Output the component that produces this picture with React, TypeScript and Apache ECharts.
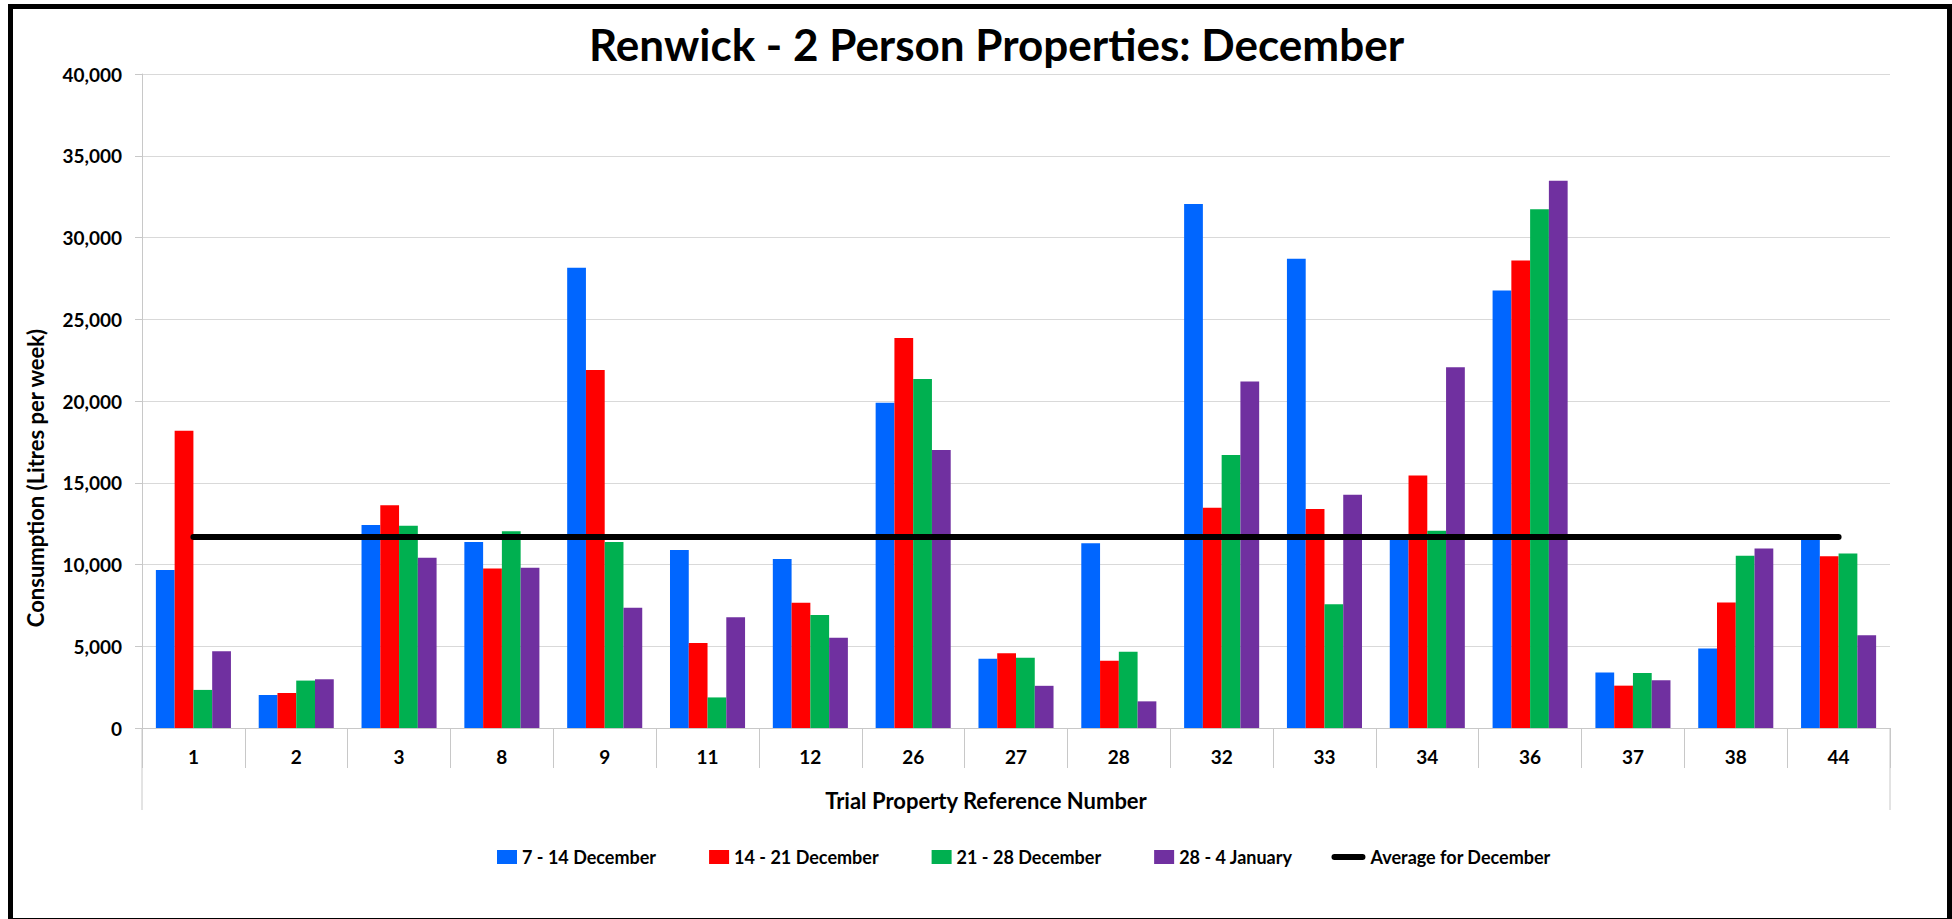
import React, { useEffect, useRef } from "react";
import * as echarts from "echarts";

const categories = ["1", "2", "3", "8", "9", "11", "12", "26", "27", "28", "32", "33", "34", "36", "37", "38", "44"];
const week1 = [9670, 2020, 12410, 11370, 28150, 10880, 10340, 19900, 4240, 11300, 32050, 28700, 11700, 26760, 3390, 4860, 11620];
const week2 = [18180, 2140, 13630, 9760, 21900, 5200, 7660, 23860, 4570, 4120, 13470, 13390, 15450, 28600, 2590, 7670, 10510];
const week3 = [2330, 2900, 12370, 12040, 11380, 1870, 6910, 21340, 4300, 4660, 16700, 7570, 12060, 31730, 3370, 10530, 10670];
const week4 = [4690, 2980, 10410, 9800, 7350, 6770, 5520, 17000, 2580, 1630, 21200, 14270, 22060, 33470, 2920, 10980, 5670];
const decemberAverage = [11680, 11680, 11680, 11680, 11680, 11680, 11680, 11680, 11680, 11680, 11680, 11680, 11680, 11680, 11680, 11680, 11680];
const seriesNames = ["7 - 14 December", "14 - 21 December", "21 - 28 December", "28 - 4 January", "Average for December"];
const seriesColors = ["#0066FF", "#FF0000", "#00B050", "#7030A0", "#000000"];
const yTicks = { min: 0, max: 40000, interval: 5000 };
const titleText = "Renwick - 2 Person Properties: December";
const xAxisTitle = "Trial Property Reference Number";
const yAxisTitle = "Consumption (Litres per week)";

const FONT = "Lato";
const W = 1952;
const H = 919;
const GRID = { left: 142, right: 62, top: 74, bottom: 191 };

export default function App() {
  const ref = useRef<HTMLDivElement>(null);
  useEffect(() => {
    document.body.style.margin = "0";
    const chart = echarts.init(ref.current!, null, { renderer: "svg" });
    const barData = [week1, week2, week3, week4];
    const axisBottom = H - GRID.bottom;
    const axisRight = W - GRID.right;
    const squareIcon = "path://M0,0L0.01,0Z M0,14L0.01,14Z M14,0L34,0L34,14L14,14Z";
    const capsuleIcon = "path://M0,0L0.01,0Z M0,14L0.01,14Z M3,4L31,4A3,3,0,0,1,31,10L3,10A3,3,0,0,1,3,4Z";
    chart.setOption({
      animation: false,
      backgroundColor: "#ffffff",
      textStyle: { fontFamily: FONT },
      title: {
        text: titleText,
        left: 584,
        top: 17,
        textStyle: { fontFamily: FONT, fontWeight: "bold", fontSize: 44, color: "#000" },
      },
      legend: {
        left: 478,
        top: 843,
        itemWidth: 34,
        itemHeight: 14,
        itemGap: 39,
        textStyle: { fontFamily: FONT, fontWeight: "bold", fontSize: 18, color: "#000" },
        data: seriesNames.map((n, i) => ({ name: n, icon: i < 4 ? squareIcon : capsuleIcon })),
      },
      grid: { ...GRID, containLabel: false },
      xAxis: {
        type: "category",
        data: categories,
        axisLine: { show: true, lineStyle: { color: "#c8c8c8", width: 1 } },
        axisTick: { show: true, length: 40, interval: 0, lineStyle: { color: "#c8c8c8" } },
        axisLabel: { margin: 19, fontFamily: FONT, fontWeight: "bold", fontSize: 19, color: "#000", interval: 0 },
        splitLine: { show: false },
      },
      yAxis: {
        type: "value",
        ...yTicks,
        axisLine: { show: true, lineStyle: { color: "#c8c8c8", width: 1 } },
        axisTick: { show: true, length: 7, lineStyle: { color: "#c8c8c8" } },
        axisLabel: {
          margin: 20,
          fontFamily: FONT,
          fontWeight: "bold",
          fontSize: 19,
          color: "#000",
          formatter: (v: number) => v.toLocaleString("en-US"),
        },
        splitLine: { show: true, lineStyle: { color: "#d9d9d9", width: 1 } },
      },
      series: [
        ...barData.map((d, i) => ({
          name: seriesNames[i],
          type: "bar",
          data: d,
          barGap: "0%",
          barCategoryGap: "27%",
          itemStyle: { color: seriesColors[i] },
        })),
        {
          name: seriesNames[4],
          type: "line",
          data: decemberAverage,
          symbol: "none",
          z: 5,
          itemStyle: { color: "#000" },
          lineStyle: { color: "#000", width: 6, cap: "round" },
        },
      ],
      graphic: [
        {
          type: "text",
          x: 986,
          y: 800,
          silent: true,
          style: {
            text: xAxisTitle,
            fontFamily: FONT,
            fontWeight: "bold",
            fontSize: 22,
            fill: "#000",
            align: "center",
            verticalAlign: "middle",
          },
        },
        {
          type: "text",
          x: 35,
          y: 478,
          rotation: Math.PI / 2,
          silent: true,
          style: {
            text: yAxisTitle,
            fontFamily: FONT,
            fontWeight: "bold",
            fontSize: 22,
            fill: "#000",
            align: "center",
            verticalAlign: "middle",
          },
        },
        {
          type: "line",
          shape: { x1: GRID.left, y1: axisBottom, x2: GRID.left, y2: axisBottom + 82 },
          style: { stroke: "#c8c8c8", lineWidth: 1 },
          silent: true,
        },
        {
          type: "line",
          shape: { x1: axisRight, y1: axisBottom, x2: axisRight, y2: axisBottom + 82 },
          style: { stroke: "#c8c8c8", lineWidth: 1 },
          silent: true,
        },
        {
          type: "rect",
          shape: { x: 10.5, y: 6.5, width: 1939, height: 914 },
          style: { fill: "none", stroke: "#000", lineWidth: 5 },
          silent: true,
          z: 100,
        },
      ],
    });
    return () => chart.dispose();
  }, []);
  return <div ref={ref} style={{ width: W, height: H }} />;
}
